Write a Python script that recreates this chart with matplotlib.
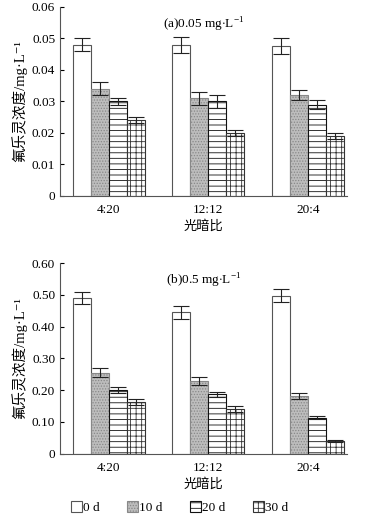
import matplotlib
matplotlib.use("Agg")
import matplotlib.pyplot as plt
from matplotlib.patches import Patch
import numpy as np

plt.rcParams['font.family'] = ['Liberation Serif', 'Noto Sans CJK SC', 'DejaVu Sans']
plt.rcParams['hatch.linewidth'] = 0.6
plt.rcParams['mathtext.fontset'] = 'custom'
plt.rcParams['mathtext.rm'] = 'Liberation Serif'

groups = ['4:20', '12:12', '20:4']
days = ['0 d', '10 d', '20 d', '30 d']

# panel a, 0.05 mg/L
a_vals = [[0.048, 0.048, 0.0475],
          [0.034, 0.031, 0.032],
          [0.030, 0.030, 0.029],
          [0.024, 0.020, 0.019]]
a_err = [[0.002, 0.0025, 0.0025],
         [0.002, 0.002, 0.0015],
         [0.001, 0.002, 0.0015],
         [0.001, 0.001, 0.001]]

# panel b, 0.5 mg/L
b_vals = [[0.490, 0.445, 0.497],
          [0.255, 0.228, 0.182],
          [0.200, 0.187, 0.113],
          [0.163, 0.140, 0.040]]
b_err = [[0.020, 0.020, 0.020],
         [0.015, 0.013, 0.010],
         [0.010, 0.008, 0.005],
         [0.010, 0.010, 0.003]]

faces = ['white', '#bdbdbd', 'white', 'white']
edges = ['#555555', '#888888', '#111111', '#333333']
hatches = ['', '......', '---', '+++']

w = 0.18
x = np.arange(len(groups))


def draw(ax, vals, errs, ymax, step, fmt, title):
    for i in range(4):
        pos = x + (i - 1.5) * w
        ax.bar(pos, vals[i], w, color=faces[i], edgecolor=edges[i],
               hatch=hatches[i], linewidth=0.8)
        ax.errorbar(pos, vals[i], yerr=errs[i], fmt='none', ecolor='#222222',
                    elinewidth=0.8, capsize=6, capthick=0.8)
    ax.set_xlim(-0.485, 2.385)
    ax.set_ylim(0, ymax)
    ticks = np.arange(0, ymax + step / 2, step)
    ax.set_yticks(ticks)
    ax.set_yticklabels(['0'] + [fmt % t for t in ticks[1:]])
    ax.set_xticks(x)
    ax.set_xticklabels(groups)
    ax.tick_params(axis='y', direction='in', length=3, labelsize=9.5)
    ax.tick_params(axis='x', length=0, labelsize=9.5, pad=6)
    for s in ['top', 'right']:
        ax.spines[s].set_visible(False)
    for s in ['left', 'bottom']:
        ax.spines[s].set_color('#555555')
    ax.set_xlabel('光暗比', fontsize=9.5, labelpad=3)
    ax.set_ylabel('氟乐灵浓度/mg·L⁻¹', fontsize=10.5, labelpad=3)
    ax.text(0.5, 0.955, title, transform=ax.transAxes, ha='center',
            va='top', fontsize=9.5)


fig = plt.figure(figsize=(3.73, 5.24), dpi=100)
ax1 = fig.add_axes([0.161, 0.626, 0.769, 0.361])
ax2 = fig.add_axes([0.161, 0.134, 0.769, 0.364])

draw(ax1, a_vals, a_err, 0.06, 0.01, '%.2f',
     r'(a)0.05 mg$\cdot$L$^{\mathregular{-1}}$')
draw(ax2, b_vals, b_err, 0.60, 0.10, '%.2f',
     r'(b)0.5 mg$\cdot$L$^{\mathregular{-1}}$')

handles = [Patch(facecolor=faces[i], edgecolor=edges[i], hatch=hatches[i],
                 linewidth=0.8) for i in range(4)]
fig.legend(handles, days, loc='center', bbox_to_anchor=(0.482, 0.032), ncol=4,
           frameon=False, fontsize=9.5, handlelength=0.8, handleheight=1.0,
           handletextpad=0.1, columnspacing=2.1)

fig.savefig('out.png', dpi=100)
